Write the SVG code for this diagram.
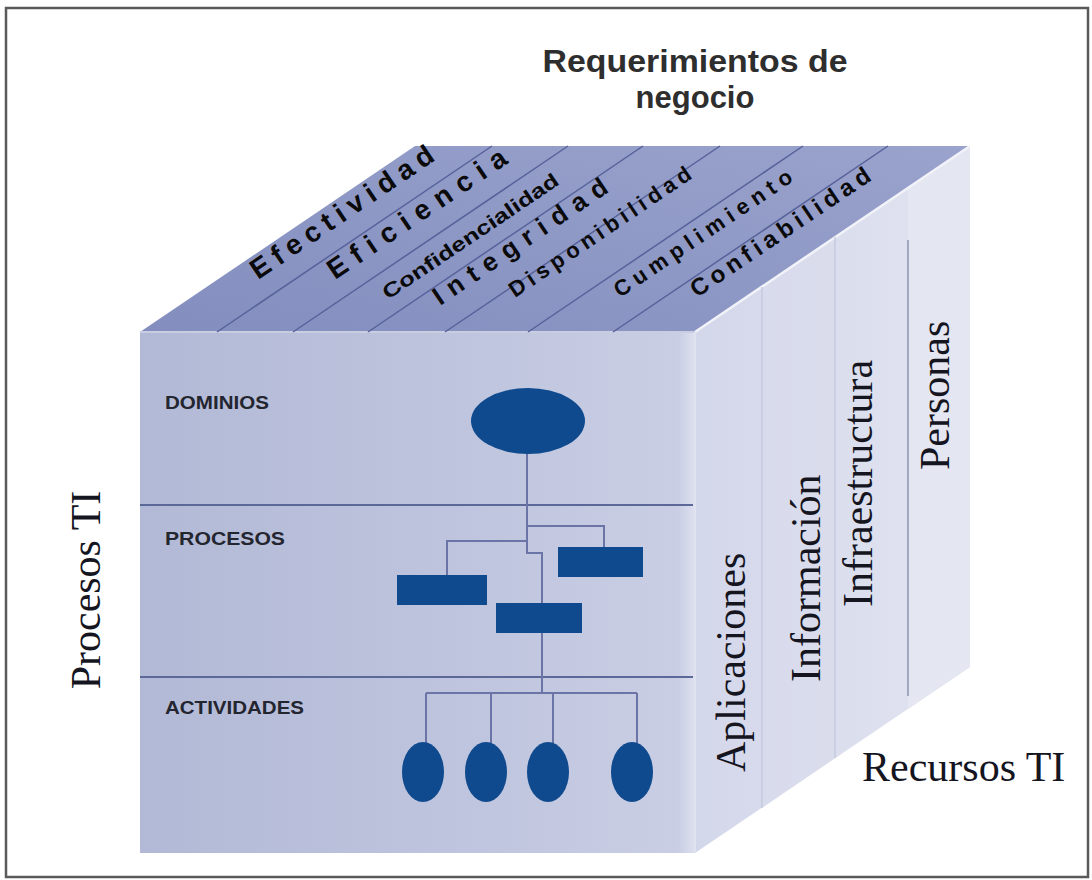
<svg xmlns="http://www.w3.org/2000/svg" width="1092" height="880" viewBox="0 0 1092 880">
  <style>
    .frame { fill: #ffffff; stroke: #5a5a5a; stroke-width: 2.5; }
    .title { font-family: "Liberation Sans", Arial, sans-serif; font-weight: bold; font-size: 31px; fill: #2e2e2e; text-anchor: middle; }
    .req { font-family: "Liberation Sans", Arial, sans-serif; font-weight: bold; fill: #0a0a0a; }
    .axis { font-family: "Liberation Serif", "Times New Roman", serif; font-size: 42px; fill: #15151f; }
    .level { font-family: "Liberation Sans", Arial, sans-serif; font-weight: bold; font-size: 18px; fill: #23252f; }
    .divTop { stroke: #56629a; stroke-width: 1.5; fill: none; }
    .divRight { stroke: #c6cadf; stroke-width: 1.5; fill: none; }
    .band { stroke: #5c6898; stroke-width: 2; fill: none; }
    .conn { stroke: #6a74a6; stroke-width: 2; fill: none; }
    .shape { fill: #0f4a8e; }
  </style>
  <defs>
    <linearGradient id="gTop" x1="0" y1="1" x2="1" y2="0">
      <stop offset="0" stop-color="#838ebf"/>
      <stop offset="1" stop-color="#9aa3cc"/>
    </linearGradient>
    <linearGradient id="gFront" x1="0" y1="0" x2="1" y2="0">
      <stop offset="0" stop-color="#b2b9d6"/>
      <stop offset="0.6" stop-color="#bfc5de"/>
      <stop offset="0.97" stop-color="#c9cee4"/>
      <stop offset="1" stop-color="#dde0ee"/>
    </linearGradient>
    <linearGradient id="gRight" x1="0" y1="0" x2="1" y2="0">
      <stop offset="0" stop-color="#d3d7ea"/>
      <stop offset="1" stop-color="#e2e4f0"/>
    </linearGradient>
  </defs>

  <rect class="frame" x="6" y="8" width="1082" height="869"/>

  <g id="title">
    <text class="title" x="695" y="72" textLength="305" lengthAdjust="spacingAndGlyphs">Requerimientos de</text>
    <text class="title" x="695" y="108">negocio</text>
  </g>

  <g id="cube">
    <polygon id="top-face" points="140,332 415,146 970,146 695,332" fill="url(#gTop)"/>
    <polygon id="front-face" points="140,332 695,332 695,853 140,853" fill="url(#gFront)"/>
    <polygon id="right-face" points="695,332 970,146 970,667 695,853" fill="url(#gRight)"/>
    <polygon points="762,287 835,237 835,758 762,808" fill="#d9dcec" opacity="0.5"/>
    <polygon points="908,188 970,146 970,667 908,709" fill="#e4e6f1"/>
    <line x1="695" y1="332" x2="970" y2="146" stroke="#f2f3f9" stroke-width="2.5"/>
    <line x1="140" y1="332" x2="695" y2="332" stroke="#c9cde2" stroke-width="2"/>
    <line x1="695" y1="332" x2="695" y2="853" stroke="#dfe2ef" stroke-width="2"/>
  </g>

  <g id="top-dividers">
    <line class="divTop" x1="217" y1="332" x2="492" y2="146"/>
    <line class="divTop" x1="293" y1="332" x2="568" y2="146"/>
    <line class="divTop" x1="368" y1="332" x2="643" y2="146"/>
    <line class="divTop" x1="445" y1="332" x2="720" y2="146"/>
    <line class="divTop" x1="528" y1="332" x2="803" y2="146"/>
    <line class="divTop" x1="613" y1="332" x2="888" y2="146"/>
  </g>

  <g id="right-dividers">
    <line class="divRight" x1="762" y1="287" x2="762" y2="808"/>
    <line class="divRight" x1="835" y1="237" x2="835" y2="758"/>
    <line x1="908" y1="240" x2="908" y2="696" stroke="#8e94b2" stroke-width="1.5"/>
  </g>

  <g id="band-lines">
    <line class="band" x1="140" y1="505" x2="693" y2="505"/>
    <line class="band" x1="140" y1="677" x2="693" y2="677"/>
  </g>

  <g id="requirements">
    <text class="req" font-size="28" x="258" y="280" transform="rotate(-34 258 280)" textLength="215" lengthAdjust="spacing">Efectividad</text>
    <text class="req" font-size="28" x="335" y="280" transform="rotate(-34 335 280)" textLength="210" lengthAdjust="spacing">Eficiencia</text>
    <text class="req" font-size="20" x="388" y="300" transform="rotate(-34 388 300)" textLength="208" lengthAdjust="spacingAndGlyphs">Confidencialidad</text>
    <text class="req" font-size="26" x="440" y="306" transform="rotate(-34 440 306)" textLength="205" lengthAdjust="spacing">Integridad</text>
    <text class="req" font-size="22" x="515" y="298" transform="rotate(-34 515 298)" textLength="215" lengthAdjust="spacing">Disponibilidad</text>
    <text class="req" font-size="22" x="620" y="298" transform="rotate(-34 620 298)" textLength="210" lengthAdjust="spacing">Cumplimiento</text>
    <text class="req" font-size="24" x="697" y="298" transform="rotate(-34 697 298)" textLength="212" lengthAdjust="spacing">Confiabilidad</text>
  </g>

  <g id="resources">
    <text class="axis" x="745" y="772" transform="rotate(-90 745 772)">Aplicaciones</text>
    <text class="axis" x="820" y="682" transform="rotate(-90 820 682)">Información</text>
    <text class="axis" x="872" y="607" transform="rotate(-90 872 607)">Infraestructura</text>
    <text class="axis" x="949" y="470" transform="rotate(-90 949 470)">Personas</text>
    <text class="axis" x="862" y="781">Recursos TI</text>
  </g>

  <g id="processes-axis">
    <text class="axis" x="100" y="590" text-anchor="middle" transform="rotate(-90 100 590)">Procesos TI</text>
  </g>

  <g id="levels">
    <text class="level" x="165" y="409" textLength="104" lengthAdjust="spacingAndGlyphs">DOMINIOS</text>
    <text class="level" x="165" y="545" textLength="120" lengthAdjust="spacingAndGlyphs">PROCESOS</text>
    <text class="level" x="165" y="714" textLength="139" lengthAdjust="spacingAndGlyphs">ACTIVIDADES</text>
  </g>

  <g id="connectors">
    <path class="conn" d="M527,452 V553 H542 V603"/>
    <path class="conn" d="M527,526 H604 V547"/>
    <path class="conn" d="M527,541 H447 V575"/>
    <path class="conn" d="M542,633 V693"/>
    <path class="conn" d="M426,693 H637"/>
    <path class="conn" d="M426,693 V745"/>
    <path class="conn" d="M491,693 V745"/>
    <path class="conn" d="M553,693 V745"/>
    <path class="conn" d="M637,693 V745"/>
  </g>

  <g id="domain"><ellipse class="shape" cx="528" cy="421" rx="57" ry="33"/></g>
  <g id="process-right"><rect class="shape" x="558" y="547" width="85" height="30"/></g>
  <g id="process-left"><rect class="shape" x="397" y="575" width="90" height="30"/></g>
  <g id="process-middle"><rect class="shape" x="496" y="603" width="86" height="30"/></g>
  <g id="activity-1"><ellipse class="shape" cx="423" cy="772" rx="21" ry="30"/></g>
  <g id="activity-2"><ellipse class="shape" cx="486" cy="772" rx="21" ry="30"/></g>
  <g id="activity-3"><ellipse class="shape" cx="548" cy="772" rx="21" ry="30"/></g>
  <g id="activity-4"><ellipse class="shape" cx="632" cy="772" rx="21" ry="30"/></g>
</svg>
